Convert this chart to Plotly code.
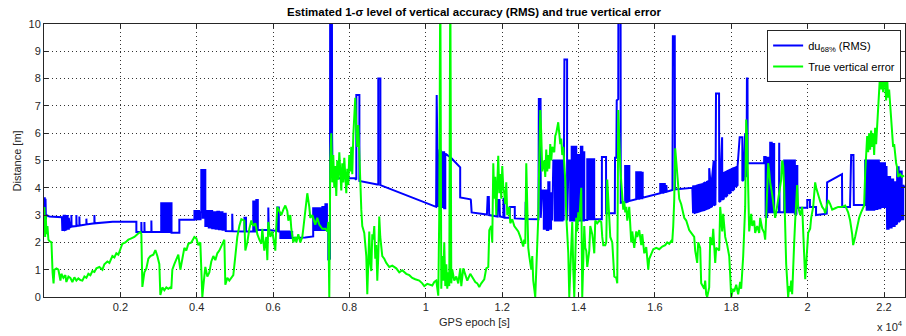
import plotly.graph_objects as go

# ---------------- data ----------------
x_tick_vals = [2000, 4000, 6000, 8000, 10000, 12000, 14000, 16000, 18000, 20000, 22000]
x_tick_text = ["0.2", "0.4", "0.6", "0.8", "1", "1.2", "1.4", "1.6", "1.8", "2", "2.2"]
y_tick_vals = [0, 1, 2, 3, 4, 5, 6, 7, 8, 9, 10]

# du68% (RMS) : (GPS epoch [s], distance [m])
du68_pts = [
    (20, 3.65), (30, 2.8), (40, 3.6), (50, 2.85), (60, 3.0),
    (140, 2.95), (300, 2.93), (470, 2.92),
    (480, 2.45), (515, 2.45), (515, 2.98), (550, 2.98), (550, 2.45), (585, 2.47), (585, 2.97),
    (620, 2.97), (620, 2.5), (650, 2.5), (650, 2.9), (680, 2.55),
    (717, 2.57), (717, 3.0), (722, 2.58), (848, 2.6), (848, 3.0), (853, 2.6), (927, 2.62), (927, 2.95),
    (932, 2.62), (1110, 2.66), (1110, 2.87), (1115, 2.66), (1320, 2.7), (1320, 3.0), (1325, 2.7),
    (1800, 2.76), (2419, 2.76), (2419, 2.38), (2550, 2.38), (2550, 2.75), (2555, 2.38), (2630, 2.38),
    (2630, 2.75), (2635, 2.38), (2812, 2.38), (2812, 2.8), (2817, 2.38), (3070, 2.38),
    (3070, 3.43), (3108, 3.43), (3108, 2.38), (3146, 2.38), (3146, 3.43), (3184, 3.43), (3184, 2.38),
    (3222, 2.38), (3222, 3.43), (3260, 3.43), (3260, 2.38), (3298, 2.38), (3298, 3.43), (3340, 3.43),
    (3340, 2.35), (3545, 2.35), (3545, 2.83), (3940, 2.83),
    (3940, 3.15), (3980, 3.15), (3980, 2.85), (4020, 2.85), (4020, 3.15), (4060, 3.15), (4060, 2.85),
    (4100, 2.85), (4100, 3.1),
    (4120, 3.1), (4120, 4.65), (4155, 4.65), (4155, 2.9), (4190, 2.9), (4190, 4.65), (4225, 4.65), (4225, 2.6),
    (4270, 2.6), (4270, 3.15), (4315, 3.15), (4315, 2.55), (4360, 2.55), (4360, 3.15), (4405, 3.15),
    (4405, 2.52), (4450, 2.52), (4450, 3.1), (4495, 3.1), (4495, 2.5), (4540, 2.5), (4540, 3.12),
    (4585, 3.12), (4585, 2.48), (4630, 2.48), (4630, 3.1), (4675, 3.1), (4675, 2.46), (4720, 2.46),
    (4720, 3.05), (4760, 3.05), (4760, 2.42),
    (4930, 2.41), (4930, 3.05), (4940, 2.41), (5250, 2.4), (5250, 2.9), (5290, 2.9), (5290, 2.4), (5480, 2.4),
    (5480, 3.5), (5520, 3.5), (5520, 2.4), (5560, 2.4), (5560, 3.55), (5600, 3.55), (5600, 2.45),
    (5875, 2.45), (5875, 3.28), (5885, 2.45), (6110, 2.42), (6110, 3.28), (6150, 3.28), (6150, 2.4), (6190, 2.4),
    (6190, 2.16), (6230, 2.16), (6230, 2.4), (6270, 2.4), (6270, 2.16), (6310, 2.16), (6310, 2.4),
    (6350, 2.4), (6350, 2.16), (6390, 2.16), (6390, 2.4), (6430, 2.4), (6430, 2.16), (6470, 2.16),
    (6470, 2.38), (6500, 2.38), (6500, 2.16),
    (6840, 2.18), (7050, 2.22),
    (7050, 3.25), (7090, 3.25), (7090, 2.45), (7130, 2.45), (7130, 3.25), (7170, 3.25), (7170, 2.45),
    (7210, 2.45), (7210, 3.25), (7250, 3.25), (7250, 2.45), (7290, 2.45), (7290, 3.3), (7330, 3.3),
    (7330, 2.45), (7370, 2.45), (7370, 3.4), (7410, 3.4), (7410, 2.45), (7446, 2.45), (7446, 1.35), (7490, 1.4),
    (7495, 12), (7540, 12), (7545, 6.0), (7560, 4.4),
    (7630, 4.35), (8130, 4.35), (8180, 4.3), (8180, 7.4), (8260, 7.4), (8260, 4.25),
    (8730, 4.12), (8755, 4.12), (8755, 8.0), (8810, 8.0), (8810, 4.1),
    (10270, 3.3), (10285, 7.4), (10300, 5.6), (10320, 3.3), (10360, 5.4),
    (10400, 5.35), (10400, 3.3), (10440, 3.3), (10440, 5.3), (10480, 5.3), (10480, 3.25), (10510, 3.25),
    (10510, 5.25), (10660, 5.1), (10900, 4.75), (10900, 3.65), (11170, 3.58), (11180, 3.55), (11200, 3.1),
    (11600, 3.02), (11620, 3.66), (11650, 3.66), (11660, 3.0), (11880, 2.95), (11890, 3.55), (11930, 3.55),
    (11940, 2.95), (12030, 2.92), (12035, 3.6), (12055, 3.6), (12060, 2.9),
    (12200, 2.9), (12200, 3.3), (12330, 3.3), (12330, 2.88), (12610, 2.86), (12615, 3.45), (12640, 3.45),
    (12645, 2.86), (12950, 2.85),
    (12960, 7.25), (13005, 7.25), (13010, 2.9),
    (13050, 3.9), (13090, 3.9), (13090, 2.5), (13130, 2.5), (13130, 3.9), (13170, 3.9), (13170, 2.45),
    (13207, 2.45), (13207, 4.2), (13240, 4.2), (13240, 2.5), (13280, 2.5), (13280, 3.8), (13310, 3.8), (13310, 2.8),
    (13340, 5.0), (13380, 5.0), (13380, 2.8), (13420, 2.8), (13420, 5.0), (13460, 5.0), (13460, 2.8),
    (13500, 2.8), (13500, 5.0), (13540, 5.0), (13540, 2.8), (13580, 2.8), (13580, 5.0), (13610, 5.0), (13610, 2.8),
    (13630, 8.7), (13700, 8.7), (13700, 2.8),
    (13740, 5.0), (13780, 5.0), (13780, 2.8), (13820, 2.8), (13820, 5.5), (13860, 5.5), (13860, 2.8),
    (13900, 2.8), (13900, 5.5), (13940, 5.5), (13940, 2.8), (13980, 2.8), (13980, 5.2), (14020, 5.2),
    (14020, 2.8), (14060, 2.8), (14060, 5.5), (14100, 5.5), (14100, 2.8), (14140, 2.8), (14140, 5.3),
    (14150, 5.3), (14150, 2.82), (14228, 2.82),
    (14228, 5.05), (14268, 5.05), (14268, 2.85), (14308, 2.85), (14308, 5.05), (14348, 5.05), (14348, 2.85),
    (14388, 2.85), (14388, 5.05), (14410, 5.05), (14410, 2.85),
    (14610, 2.85), (14612, 5.13), (14720, 5.13), (14722, 3.07), (14950, 3.07), (14955, 5.1), (14990, 5.1),
    (15000, 7.2), (15040, 7.25), (15045, 12), (15100, 12), (15105, 3.45),
    (15220, 3.48), (15220, 4.8), (15260, 4.8), (15260, 3.48), (15300, 3.5), (15300, 4.8), (15330, 4.8), (15330, 3.52),
    (15510, 3.58), (15510, 4.57), (15550, 4.57), (15550, 3.6), (15590, 3.6), (15590, 4.57), (15630, 4.57),
    (15630, 3.62), (15670, 3.62), (15670, 4.55), (15680, 4.55), (15680, 3.64),
    (16140, 3.8), (16140, 4.14), (16180, 4.14), (16180, 3.82), (16220, 3.82), (16220, 4.14), (16260, 4.14),
    (16260, 3.84), (16300, 3.85), (16300, 4.1), (16310, 3.86),
    (16460, 3.92), (16470, 9.55), (16520, 9.55), (16525, 3.94), (16980, 4.0),
    (17000, 3.07), (17000, 4.05), (17045, 4.06), (17045, 3.08), (17090, 3.1), (17090, 4.08), (17135, 4.1),
    (17135, 3.12), (17180, 3.14), (17180, 4.11), (17225, 4.13), (17225, 3.16), (17270, 3.18), (17270, 4.16),
    (17315, 4.2), (17315, 3.2), (17360, 3.23), (17360, 4.22), (17405, 4.25), (17405, 3.25), (17422, 3.26),
    (17422, 4.72), (17450, 4.28), (17450, 3.28), (17495, 3.32), (17495, 4.32), (17540, 5.0), (17545, 3.35),
    (17585, 3.39), (17590, 4.38), (17600, 7.45), (17680, 7.45), (17685, 3.48), (17720, 3.52), (17720, 4.48),
    (17760, 5.85), (17765, 3.56), (17805, 3.6), (17805, 4.55), (17850, 4.58), (17850, 3.66), (17895, 3.72),
    (17895, 4.61), (17940, 4.64), (17940, 3.78), (17985, 3.83), (17985, 4.67), (18030, 4.7), (18030, 3.89),
    (18075, 3.95), (18075, 4.72), (18120, 4.75), (18120, 4.03), (18165, 4.1), (18165, 4.78), (18220, 5.85),
    (18290, 5.85), (18290, 4.25), (18330, 4.3), (18330, 4.85), (18364, 6.0), (18370, 4.4), (18400, 4.45),
    (18410, 8.0), (18425, 8.0), (18430, 4.9), (18860, 4.9),
    (18862, 5.13), (18900, 5.13), (18900, 2.93), (18940, 2.93), (18940, 5.1), (18980, 5.1), (18980, 3.1),
    (19019, 3.1), (19019, 5.65), (19060, 5.65), (19060, 3.1), (19100, 3.1), (19100, 5.6), (19124, 5.6),
    (19124, 3.1), (19250, 3.1), (19255, 5.65), (19265, 3.1), (19386, 3.1), (19386, 5.0), (19426, 5.0),
    (19426, 3.1), (19466, 3.1), (19466, 5.0), (19506, 5.0), (19506, 3.1), (19546, 3.1), (19546, 5.0),
    (19586, 5.0), (19586, 3.1), (19626, 3.1), (19626, 5.0), (19666, 5.0), (19666, 3.05), (19706, 3.05),
    (19706, 4.8), (19730, 4.8), (19730, 3.27),
    (19990, 3.27), (19990, 3.55), (20060, 3.55), (20060, 3.3), (20220, 3.3), (20220, 3.0), (20500, 3.05),
    (20510, 4.2), (20900, 4.5), (20905, 3.3), (21110, 3.3), (21140, 5.2), (21200, 5.2), (21210, 3.37), (21500, 3.37),
    (21506, 5.0), (21546, 5.0), (21546, 3.2), (21586, 3.2), (21586, 5.0), (21626, 5.0), (21626, 3.2),
    (21666, 3.2), (21666, 5.0), (21706, 5.0), (21706, 3.2), (21746, 3.2), (21746, 5.0), (21786, 5.0),
    (21786, 3.22), (21826, 3.22), (21826, 5.0), (21866, 5.0), (21866, 3.25), (21906, 3.25), (21906, 4.9),
    (21946, 4.9), (21946, 3.3), (21986, 3.3), (21986, 4.9), (22026, 4.9), (22026, 3.3), (22066, 3.3),
    (22066, 4.8), (22082, 4.8), (22082, 2.5),
    (22120, 2.5), (22120, 4.4), (22160, 4.4), (22160, 2.55), (22200, 2.55), (22200, 4.3), (22240, 4.3),
    (22240, 2.6), (22280, 2.6), (22280, 4.2), (22320, 4.2), (22320, 2.65), (22344, 2.7),
    (22344, 4.75), (22384, 4.75), (22384, 2.75), (22424, 2.8), (22424, 4.6), (22464, 4.6), (22464, 2.85),
    (22504, 2.85), (22504, 4.1), (22540, 4.0),
]

# True vertical error : (GPS epoch [s], distance [m])
true_err_pts = [
    (10, 3.3), (30, 2.2), (45, 3.0), (65, 2.3), (90, 2.6), (115, 2.1), (141, 2.05), (195, 2.0), (225, 0.9),
    (250, 0.5), (272, 1.0), (325, 1.05), (377, 1.0), (403, 0.75), (430, 0.6), (455, 0.85), (508, 0.7),
    (560, 0.8), (586, 0.55), (640, 0.75), (690, 0.7), (743, 0.55), (796, 0.72), (848, 0.6), (900, 0.68),
    (953, 0.62), (1005, 0.6), (1058, 0.75), (1110, 0.7), (1162, 0.85), (1215, 0.8), (1267, 0.95),
    (1320, 0.92), (1372, 1.05), (1450, 1.1), (1530, 1.0), (1581, 1.2), (1660, 1.3), (1712, 1.25),
    (1791, 1.5), (1843, 1.45), (1895, 1.6), (1948, 1.55), (2000, 1.75), (2052, 1.95), (2131, 2.0),
    (2210, 2.1), (2288, 2.15), (2367, 2.2), (2445, 2.3), (2524, 2.38), (2550, 2.3), (2576, 0.37),
    (2629, 0.9), (2681, 1.05), (2733, 1.4), (2786, 1.5), (2864, 1.55), (2917, 1.72), (2969, 1.5),
    (3021, 1.2), (3047, 0.07), (3100, 0.35), (3152, 0.25), (3204, 0.35), (3257, 0.3), (3309, 0.35),
    (3335, 0.3), (3361, 1.0), (3414, 1.2), (3466, 1.35), (3518, 1.55), (3571, 1.0), (3623, 1.45),
    (3676, 1.8), (3728, 1.7), (3780, 1.95), (3859, 2.0), (3938, 2.2), (3990, 2.15), (4042, 1.9),
    (4094, 2.0), (4121, 1.2), (4147, 0.0), (4173, 0.4), (4199, 0.9), (4225, 1.1), (4278, 0.75),
    (4330, 0.9), (4382, 1.3), (4435, 1.5), (4487, 1.35), (4539, 1.6), (4592, 1.7), (4644, 1.85),
    (4697, 2.0), (4723, 2.1), (4749, 0.45), (4801, 0.7), (4854, 0.6), (4906, 0.68), (4958, 0.8),
    (5011, 1.5), (5063, 2.2), (5116, 2.6), (5168, 2.85), (5247, 2.8), (5273, 1.7), (5325, 2.0),
    (5378, 2.5), (5430, 2.8), (5482, 2.6), (5535, 2.7), (5587, 2.3), (5640, 2.1), (5692, 1.95),
    (5718, 2.5), (5770, 1.7), (5823, 2.2), (5849, 1.35), (5875, 2.75), (5928, 2.2), (5980, 2.4),
    (6032, 1.9), (6058, 1.7), (6084, 2.6), (6110, 3.3), (6163, 3.15), (6215, 3.0), (6268, 3.2),
    (6320, 3.35), (6372, 3.15), (6399, 2.8), (6451, 3.0), (6477, 2.5), (6529, 2.0), (6582, 2.2),
    (6608, 2.0), (6660, 2.3), (6713, 2.0), (6765, 2.2), (6791, 2.5), (6843, 3.07), (6896, 3.8),
    (6948, 3.3), (6974, 2.9), (7027, 3.0), (7079, 2.75), (7105, 2.65), (7158, 2.9), (7210, 2.65),
    (7289, 2.5), (7367, 2.5), (7420, 2.4), (7446, 2.75), (7472, 0.0), (7498, 5.0), (7524, 6.0),
    (7550, 4.2), (7576, 5.2), (7603, 4.0), (7629, 4.8), (7655, 3.7), (7681, 5.0), (7707, 4.3),
    (7734, 5.3), (7760, 4.5), (7786, 3.9), (7812, 4.9), (7838, 4.2), (7865, 5.1), (7891, 4.4),
    (7917, 3.8), (7943, 4.7), (7969, 4.1), (7995, 5.2), (8022, 4.6), (8048, 5.5), (8074, 4.5),
    (8100, 5.9), (8126, 6.8), (8152, 7.3), (8179, 6.2), (8205, 5.5), (8231, 6.3), (8257, 4.8),
    (8283, 4.3), (8310, 3.2), (8336, 2.6), (8388, 2.35), (8441, 1.5), (8467, 0.1), (8493, 1.7),
    (8519, 2.4), (8546, 1.2), (8572, 0.95), (8598, 2.3), (8624, 2.1), (8650, 2.6), (8676, 1.4),
    (8703, 1.9), (8729, 0.6), (8755, 1.5), (8781, 2.95), (8807, 2.2), (8833, 1.9), (8860, 1.5),
    (8912, 1.4), (8965, 1.25), (9043, 1.1), (9122, 1.15), (9226, 1.05), (9305, 0.9), (9383, 0.98),
    (9488, 0.85), (9567, 0.8), (9645, 0.7), (9724, 0.65), (9829, 0.6), (9907, 0.5), (9960, 0.4),
    (10038, 0.48), (10117, 0.45), (10169, 0.42), (10222, 0.55), (10274, 0.6), (10326, 0.05),
    (10352, 3.0), (10379, 12), (10405, 0.3), (10431, 1.5), (10457, 0.6), (10483, 2.0), (10510, 0.4),
    (10536, 1.2), (10562, 0.3), (10588, 0.9), (10614, 0.4), (10641, 12), (10667, 0.5), (10693, 1.0),
    (10745, 0.6), (10798, 0.75), (10850, 0.5), (10902, 1.05), (10929, 0.4), (10981, 1.05), (11033, 0.85),
    (11086, 0.6), (11164, 0.85), (11243, 0.65), (11295, 0.55), (11348, 0.5), (11400, 0.37), (11452, 0.5),
    (11531, 0.65), (11583, 1.05), (11636, 1.1), (11662, 2.45), (11714, 2.6), (11740, 2.0), (11767, 4.9),
    (11793, 3.6), (11819, 4.4), (11845, 3.0), (11871, 4.6), (11897, 5.17), (11924, 3.8), (11950, 4.5),
    (11976, 3.6), (12002, 4.8), (12029, 4.0), (12055, 3.8), (12081, 3.4), (12107, 4.2), (12133, 3.0),
    (12186, 3.3), (12212, 2.7), (12264, 2.85), (12317, 2.6), (12369, 2.5), (12421, 2.4), (12474, 2.2),
    (12526, 2.0), (12552, 1.85), (12578, 2.1), (12605, 1.95), (12631, 4.9), (12657, 2.5), (12683, 1.8),
    (12709, 1.5), (12762, 1.0), (12788, 1.5), (12814, 0.6), (12866, 0.0), (12893, 1.0), (12919, 1.6),
    (12945, 2.9), (12971, 5.0), (12997, 6.85), (13023, 6.0), (13050, 4.6), (13102, 5.0), (13128, 4.4),
    (13154, 5.4), (13181, 4.6), (13207, 5.2), (13233, 4.7), (13259, 5.6), (13285, 5.0), (13311, 5.5),
    (13364, 5.3), (13390, 5.9), (13416, 6.0), (13468, 6.4), (13495, 6.1), (13521, 5.6), (13547, 5.8),
    (13573, 5.2), (13599, 5.5), (13626, 5.0), (13652, 4.3), (13678, 3.0), (13704, 2.3), (13731, 1.6),
    (13757, 0.0), (13783, 1.2), (13809, 1.6), (13835, 2.75), (13862, 1.0), (13888, 0.0), (13914, 1.4),
    (13940, 2.9), (13967, 2.4), (13993, 3.1), (14019, 2.8), (14045, 3.4), (14071, 4.0), (14097, 0.0),
    (14124, 1.2), (14150, 2.6), (14176, 1.8), (14202, 1.7), (14228, 1.1), (14281, 1.7), (14307, 2.6),
    (14359, 2.3), (14385, 2.0), (14412, 1.6), (14438, 2.8), (14490, 2.7), (14543, 2.8), (14595, 2.75),
    (14621, 2.2), (14648, 1.9), (14700, 1.9), (14726, 2.0), (14752, 4.3), (14778, 3.6), (14804, 2.8),
    (14831, 2.2), (14883, 2.0), (14909, 1.3), (14936, 0.75), (14988, 0.7), (15014, 0.5), (15040, 6.85),
    (15066, 5.5), (15093, 4.8), (15119, 4.2), (15145, 3.5), (15171, 3.2), (15197, 3.5), (15223, 3.1),
    (15250, 3.3), (15276, 2.8), (15328, 3.3), (15354, 2.5), (15380, 2.0), (15407, 2.4), (15459, 1.8),
    (15511, 2.4), (15538, 2.2), (15590, 2.45), (15642, 1.9), (15669, 2.3), (15721, 1.6), (15773, 1.83),
    (15826, 1.0), (15852, 1.4), (15904, 1.6), (15957, 1.75), (16035, 1.8), (16113, 1.75), (16192, 1.85),
    (16270, 1.9), (16322, 2.0), (16375, 1.95), (16427, 2.05), (16453, 2.0), (16480, 2.6), (16506, 3.55),
    (16532, 5.45), (16558, 5.0), (16584, 4.6), (16611, 4.0), (16637, 3.6), (16689, 3.4), (16742, 3.1),
    (16768, 2.9), (16820, 2.8), (16898, 2.45), (16951, 2.35), (17029, 2.2), (17055, 1.7), (17108, 1.25),
    (17134, 2.0), (17186, 1.8), (17212, 0.5), (17265, 0.35), (17291, 0.3), (17317, 0.6), (17343, 0.1),
    (17369, 0.0), (17422, 0.35), (17448, 2.2), (17500, 1.9), (17527, 2.5), (17579, 1.25), (17605, 1.8),
    (17684, 1.7), (17710, 3.3), (17762, 2.4), (17788, 3.05), (17841, 2.2), (17893, 1.9), (17946, 1.5),
    (17972, 0.8), (17998, 0.0), (18050, 0.3), (18076, 0.2), (18129, 0.45), (18155, 0.3), (18181, 0.1),
    (18233, 0.55), (18260, 0.3), (18312, 1.5), (18338, 2.35), (18364, 3.3), (18391, 6.5), (18417, 5.8),
    (18443, 4.0), (18469, 2.4), (18522, 3.05), (18548, 2.6), (18600, 2.8), (18626, 2.35), (18679, 2.6),
    (18731, 2.35), (18757, 2.9), (18810, 2.5), (18862, 2.35), (18888, 2.1), (18914, 2.9), (18941, 4.4),
    (18967, 4.9), (18993, 4.6), (19019, 4.2), (19072, 3.75), (19098, 3.4), (19150, 2.9), (19176, 3.1),
    (19229, 3.6), (19255, 3.8), (19307, 4.3), (19333, 5.0), (19360, 4.8), (19386, 4.0), (19412, 2.4),
    (19438, 1.2), (19490, 0.0), (19517, 0.4), (19543, 0.2), (19569, 0.6), (19595, 0.1), (19621, 1.3),
    (19648, 2.0), (19674, 2.8), (19700, 3.3), (19726, 4.1), (19752, 3.3), (19805, 3.0), (19857, 3.3),
    (19883, 2.2), (19909, 1.3), (19936, 0.65), (19962, 1.2), (19988, 1.8), (20014, 2.35), (20066, 2.5),
    (20093, 2.9), (20145, 3.3), (20197, 4.2), (20224, 4.0), (20276, 3.7), (20329, 3.5), (20381, 3.3),
    (20433, 3.2), (20459, 3.07), (20485, 3.2), (20538, 3.55), (20590, 3.4), (20643, 3.2), (20721, 3.25),
    (20800, 3.3), (20904, 3.3), (20983, 3.35), (21061, 3.1), (21113, 2.8), (21166, 2.3), (21192, 1.9),
    (21244, 2.2), (21297, 2.6), (21349, 2.9), (21401, 3.1), (21454, 3.3), (21480, 3.35), (21506, 4.5),
    (21532, 5.5), (21559, 5.9), (21585, 5.3), (21611, 6.0), (21637, 5.4), (21663, 6.1), (21690, 5.5),
    (21716, 6.0), (21742, 5.2), (21768, 6.2), (21794, 5.6), (21820, 6.3), (21846, 6.5), (21873, 7.2),
    (21899, 8.2), (21925, 7.6), (21951, 8.3), (21977, 7.5), (22003, 8.4), (22030, 7.8), (22056, 7.2),
    (22082, 8.05), (22108, 7.3), (22134, 7.6), (22161, 6.95), (22187, 6.5), (22213, 6.0), (22239, 5.5),
    (22266, 5.6), (22292, 5.2), (22318, 4.9), (22344, 4.75), (22370, 4.4), (22423, 4.5), (22475, 4.4),
    (22527, 4.45),
]

# ---------------- figure ----------------
FONT = "Liberation Sans, Arial, Helvetica, sans-serif"
AXC = "#262626"

fig = go.Figure()
fig.add_trace(go.Scatter(
    x=[p[0] for p in du68_pts], y=[p[1] for p in du68_pts],
    mode="lines", name="du<sub>68%</sub> (RMS)", legendgroup="a",
    line=dict(color="#0000FF", width=2),
))
fig.add_trace(go.Scatter(
    x=[p[0] for p in true_err_pts], y=[p[1] for p in true_err_pts],
    mode="lines", name="True vertical error", legendgroup="b",
    line=dict(color="#00FF00", width=2),
))

axis_common = dict(
    showline=True, linecolor=AXC, linewidth=1, mirror="ticks",
    ticks="inside", ticklen=4, tickcolor=AXC,
    showgrid=True, gridcolor="rgba(0,0,0,0.8)", griddash="1px,3px", gridwidth=1,
    zeroline=False, tickfont=dict(family=FONT, size=11, color=AXC),
)

fig.update_xaxes(range=[0, 22550], tickvals=x_tick_vals, ticktext=x_tick_text, **axis_common)
fig.update_yaxes(range=[0, 10], tickvals=y_tick_vals, **axis_common)

fig.update_layout(
    width=906, height=336,
    margin=dict(l=44, r=1, t=24, b=39),
    paper_bgcolor="white", plot_bgcolor="white",
    font=dict(family=FONT, size=11, color=AXC),
    showlegend=True,
    legend=dict(
        x=0.9955, y=0.978, xanchor="right", yanchor="top",
        bgcolor="white", bordercolor=AXC, borderwidth=1,
        font=dict(family=FONT, size=11, color="#000"),
        tracegroupgap=2, traceorder="grouped",
    ),
    annotations=[
        dict(text="<b>Estimated 1-σ level of vertical accuracy (RMS) and true vertical error</b>",
             xref="paper", yref="paper", x=0.5, y=1 + 12 / 273,
             xanchor="center", yanchor="middle", showarrow=False,
             font=dict(family=FONT, size=11.5, color="#000")),
        dict(text="GPS epoch [s]", xref="paper", yref="paper", x=0.5, y=-(322 - 297) / 273,
             xanchor="center", yanchor="middle", showarrow=False,
             font=dict(family=FONT, size=11, color=AXC)),
        dict(text="Distance [m]", xref="paper", yref="paper", x=-(44 - 16) / 861, y=0.5,
             xanchor="center", yanchor="middle", textangle=-90, showarrow=False,
             font=dict(family=FONT, size=11, color=AXC)),
        dict(text="x 10<sup>4</sup>", xref="paper", yref="paper", x=1.0, y=-(326 - 297) / 273,
             xanchor="right", yanchor="middle", showarrow=False,
             font=dict(family=FONT, size=11, color=AXC)),
    ],
)

fig.write_html("out.html")
